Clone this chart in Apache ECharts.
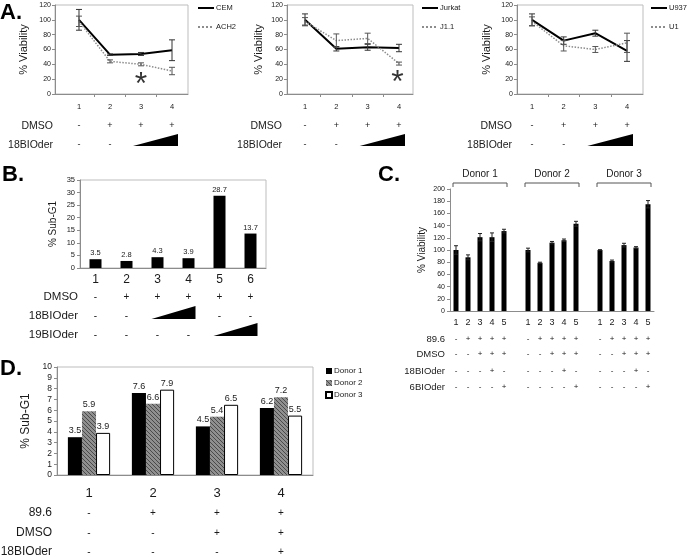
<!DOCTYPE html>
<html>
<head>
<meta charset="utf-8">
<style>html,body{margin:0;padding:0;background:#fff}#main{width:691px;height:557px}</style>
<script src="https://cdn.jsdelivr.net/npm/echarts@6.0.0/dist/echarts.min.js"></script>
</head>
<body>
<div id="main"></div>
<script>
// panel A: viability curves
const aCats = [1, 2, 3, 4]
const cemVals = [100, 53, 54, 59]
const cemErr = [14, 1, 2, 14]
const ach2Vals = [98, 44, 40, 31]
const ach2Err = [7, 2, 2, 5]
const jurkatVals = [100, 61, 63, 62]
const jurkatErr = [8, 3, 4, 5]
const j11Vals = [98, 72, 75, 41]
const j11Err = [5, 9, 7, 2]
const u937Vals = [100, 72, 82, 58]
const u937Err = [8, 5, 4, 14]
const u1Vals = [98, 65, 60, 69]
const u1Err = [6, 7, 4, 13]
const aDmso = ['-', '+', '+', '+']
const a18 = ['-', '-', '', '']

// panel B: sub-G1
const bCats = ['1', '2', '3', '4', '5', '6']
const bVals = [3.5, 2.8, 4.3, 3.9, 28.7, 13.7]
const bDmso = ['-', '+', '+', '+', '+', '+']
const b18 = ['-', '-', '', '', '-', '-']
const b19 = ['-', '-', '-', '-', '', '']

// panel C: donors viability
const cDonors = ['Donor 1', 'Donor 2', 'Donor 3']
const cLanes = ['1', '2', '3', '4', '5']
const cVals = [[100, 88, 121, 121, 131], [100, 79, 112, 116, 143], [100, 82, 108, 104, 175]]
const cErr = [[7, 4, 6, 7, 3], [3, 1, 2, 2, 4], [0.5, 1.5, 3, 1.5, 6]]
const c896 = ['-', '+', '+', '+', '+']
const cDmso = ['-', '-', '+', '+', '+']
const c18 = ['-', '-', '-', '+', '-']
const c6 = ['-', '-', '-', '-', '+']

// panel D: donors sub-G1
const dCats = ['1', '2', '3', '4']
const dNames = ['Donor 1', 'Donor 2', 'Donor 3']
const dDonor1 = [3.5, 7.6, 4.5, 6.2]
const dDonor2 = [5.9, 6.6, 5.4, 7.2]
const dDonor3 = [3.9, 7.9, 6.5, 5.5]
const d896 = ['-', '+', '+', '+']
const dDmso = ['-', '-', '+', '+']
const d18 = ['-', '-', '-', '+']

const FONT = '"Liberation Sans", Arial, sans-serif'
const TXT = '#1a1a1a'
const AXIS = '#8c8c8c'

// slots for C: 5 lanes per donor, one empty slot between donors
const cAxis = []
cDonors.forEach((d, k) => {
  cLanes.forEach(l => cAxis.push(l))
  if (k < cDonors.length - 1) cAxis.push('')
})
const cBarData = cAxis.map(() => null)
const cErrData = []
cDonors.forEach((d, k) => {
  cLanes.forEach((l, i) => {
    const s = k * 6 + i
    cBarData[s] = cVals[k][i]
    cErrData.push([s, cVals[k][i] - cErr[k][i], cVals[k][i] + cErr[k][i]])
  })
})

function hatch() {
  const c = document.createElement('canvas')
  c.width = 4; c.height = 4
  const g = c.getContext('2d')
  g.fillStyle = '#8f8f8f'
  g.fillRect(0, 0, 4, 4)
  g.strokeStyle = '#4a4a4a'
  g.lineWidth = 1
  g.beginPath()
  g.moveTo(-1, -1); g.lineTo(5, 5)
  g.moveTo(-1, 3); g.lineTo(1, 5)
  g.moveTo(3, -1); g.lineTo(5, 1)
  g.stroke()
  return c
}

function errorBars(name, idx, pts, color, cap) {
  return {
    type: 'custom', name: name, xAxisIndex: idx, yAxisIndex: idx, z: 4, silent: true,
    data: pts,
    encode: { x: 0, y: [1, 2] },
    renderItem: function (params, api) {
      const hi = api.coord([api.value(0), api.value(2)])
      const lo = api.coord([api.value(0), api.value(1)])
      const st = { stroke: color, lineWidth: 1 }
      return {
        type: 'group', children: [
          { type: 'line', shape: { x1: hi[0], y1: hi[1], x2: lo[0], y2: lo[1] }, style: st },
          { type: 'line', shape: { x1: hi[0] - cap, y1: hi[1], x2: hi[0] + cap, y2: hi[1] }, style: st },
          { type: 'line', shape: { x1: lo[0] - cap, y1: lo[1], x2: lo[0] + cap, y2: lo[1] }, style: st }
        ]
      }
    }
  }
}

const errPts = (vals, errs) => vals.map((v, i) => [aCats[i], v - errs[i], v + errs[i]])

// A panels layout
const aPanels = [
  { left: 55, width: 133, min: 0.226, max: 4.516, nameGap: 26, legend: 197,
    solid: ['CEM', cemVals, cemErr], dot: ['ACH2', ach2Vals, ach2Err], star: [3, 21] },
  { left: 287, width: 126, min: 0.425, max: 4.447, nameGap: 23, legend: 421,
    solid: ['Jurkat', jurkatVals, jurkatErr], dot: ['J1.1', j11Vals, j11Err], star: [3.95, 24] },
  { left: 517, width: 126, min: 0.526, max: 4.505, nameGap: 25, legend: 650,
    solid: ['U937', u937Vals, u937Err], dot: ['U1', u1Vals, u1Err], star: null }
]

const grid = []
const xAxis = []
const yAxis = []
const series = []
const legend = []

const yBase = (gi, max, step, fs, name, nameFs, gap) => ({
  type: 'value', gridIndex: gi, min: 0, max: max, interval: step,
  name: name, nameLocation: 'middle', nameGap: gap,
  nameTextStyle: { fontSize: nameFs, fontFamily: FONT, color: TXT },
  axisLine: { show: true, lineStyle: { color: AXIS } },
  axisTick: { show: true, length: 3, lineStyle: { color: AXIS } },
  axisLabel: { fontSize: fs, fontFamily: FONT, color: TXT, margin: 5 },
  splitLine: { show: false }
})

aPanels.forEach((p, gi) => {
  grid.push({ left: p.left, width: p.width, top: 5, height: 89, show: true, borderColor: '#bdbdbd', borderWidth: 1 })
  xAxis.push({
    type: 'value', gridIndex: gi, min: p.min, max: p.max,
    splitLine: { show: false },
    axisLine: { lineStyle: { color: AXIS } },
    axisTick: { customValues: [1.5, 2.5, 3.5], length: 3, lineStyle: { color: AXIS } },
    axisLabel: { customValues: aCats, fontSize: 7.5, fontFamily: FONT, color: TXT, margin: 13, verticalAlign: 'middle' }
  })
  const y = yBase(gi, 120, 20, 7, '% Viability', 11, p.nameGap)
  y.axisLabel.margin = 4
  yAxis.push(y)
  series.push({
    type: 'line', name: p.solid[0], xAxisIndex: gi, yAxisIndex: gi, symbol: 'none', z: 3,
    color: '#000', lineStyle: { width: 2, color: '#000' },
    data: p.solid[1].map((v, i) => [aCats[i], v])
  })
  series.push({
    type: 'line', name: p.dot[0], xAxisIndex: gi, yAxisIndex: gi, symbol: 'none', z: 3,
    color: '#8c8c8c', lineStyle: { width: 1.5, type: 'dotted', color: '#8c8c8c' },
    data: p.dot[1].map((v, i) => [aCats[i], v])
  })
  series.push(errorBars(p.solid[0] + ' err', gi, errPts(p.solid[1], p.solid[2]), '#333', 3))
  series.push(errorBars(p.dot[0] + ' err', gi, errPts(p.dot[1], p.dot[2]), '#555', 3))
  if (p.star) {
    series.push({
      type: 'scatter', xAxisIndex: gi, yAxisIndex: gi, symbolSize: 1, silent: true,
      itemStyle: { color: 'rgba(0,0,0,0)' },
      label: { show: true, position: 'inside', formatter: '*', fontSize: 32, fontFamily: FONT, color: '#000', offset: [0, 7] },
      data: [p.star]
    })
  }
  legend.push({
    left: p.legend, top: 4, padding: 0, orient: 'vertical', itemWidth: 16, itemHeight: 8, itemGap: 11,
    data: [p.solid[0], p.dot[0]],
    itemStyle: { opacity: 0 },
    textStyle: { fontSize: 7.5, fontFamily: FONT, color: TXT, padding: [0, 0, 0, -3] }
  })
})

// B
grid.push({ left: 80, width: 186, top: 180, height: 88, show: true, borderColor: '#bdbdbd', borderWidth: 1 })
xAxis.push({
  type: 'category', gridIndex: 3, data: bCats,
  axisLine: { lineStyle: { color: AXIS } },
  axisTick: { length: 3, lineStyle: { color: AXIS } },
  axisLabel: { fontSize: 12, fontFamily: FONT, color: TXT, margin: 12, verticalAlign: 'middle' }
})
yAxis.push(yBase(3, 35, 5, 7.5, '% Sub-G1', 10, 22))
series.push({
  type: 'bar', xAxisIndex: 3, yAxisIndex: 3, barWidth: 12, data: bVals,
  itemStyle: { color: '#000' },
  label: { show: true, position: 'top', distance: 2, fontSize: 7.5, fontFamily: FONT, color: TXT }
})

// C
grid.push({ left: 450, width: 204, top: 189, height: 122 })
xAxis.push({
  type: 'category', gridIndex: 4, data: cAxis,
  axisLine: { lineStyle: { color: AXIS } },
  axisTick: { length: 2, lineStyle: { color: AXIS } },
  axisLabel: { interval: 0, fontSize: 9, fontFamily: FONT, color: TXT, margin: 12, verticalAlign: 'middle' }
})
yAxis.push(yBase(4, 200, 20, 7, '% Viability', 10, 23))
series.push({
  type: 'bar', xAxisIndex: 4, yAxisIndex: 4, barWidth: 5, data: cBarData, itemStyle: { color: '#000' }
})
series.push(errorBars('C err', 4, cErrData, '#222', 2))

// D
grid.push({ left: 57, width: 256, top: 367, height: 108, show: true, borderColor: '#bdbdbd', borderWidth: 1 })
xAxis.push({
  type: 'category', gridIndex: 5, data: dCats,
  axisLine: { lineStyle: { color: AXIS } },
  axisTick: { length: 3, lineStyle: { color: AXIS } },
  axisLabel: { fontSize: 13, fontFamily: FONT, color: TXT, margin: 18, verticalAlign: 'middle' }
})
yAxis.push(yBase(5, 10, 1, 8.5, '% Sub-G1', 12, 25))
const dStyles = [
  { color: '#000' },
  { color: { image: hatch(), repeat: 'repeat' } },
  { color: '#fff', borderColor: '#000', borderWidth: 1 }
]
;[dDonor1, dDonor2, dDonor3].forEach((vals, k) => {
  series.push({
    type: 'bar', name: dNames[k], xAxisIndex: 5, yAxisIndex: 5, data: vals,
    barGap: '0%', barCategoryGap: '34%', itemStyle: dStyles[k],
    label: { show: true, position: 'top', distance: 2, fontSize: 9, fontFamily: FONT, color: TXT }
  })
})
legend.push({
  left: 325, top: 367, padding: 0, orient: 'vertical', itemWidth: 6, itemHeight: 6, itemGap: 4, icon: 'rect',
  data: dNames, textStyle: { fontSize: 8, fontFamily: FONT, color: TXT, padding: [0, 0, 0, -3] }
})

const chart = echarts.init(document.getElementById('main'))
chart.setOption({
  animation: false,
  textStyle: { fontFamily: FONT },
  grid: grid, xAxis: xAxis, yAxis: yAxis, legend: legend, series: series
})

// annotation rows, drawn at the axis positions
const px = (xi, v) => chart.convertToPixel({ xAxisIndex: xi }, v)
const txt = (x, y, s, size, align, extra) => ({
  type: 'text', x: x, y: y, silent: true,
  style: Object.assign({ text: s, fontSize: size, fontFamily: FONT, fill: TXT, align: align || 'center', verticalAlign: 'middle' }, extra || {})
})
const signRow = (xi, xs, signs, y, size) =>
  signs.map((s, i) => s ? txt(px(xi, xs[i]), y, s, size) : null).filter(Boolean)
const wedge = (xi, v1, v2, yb, h, padL, padR) => {
  const x1 = px(xi, v1) - padL
  const x2 = px(xi, v2) + padR
  return { type: 'polygon', silent: true, shape: { points: [[x1, yb], [x2, yb], [x2, yb - h]] }, style: { fill: '#000' } }
}

let g = []
// letters
g.push(txt(0, 2, 'A.', 22, 'left', { fontWeight: 'bold', verticalAlign: 'top', fill: '#000' }))
g.push(txt(2, 164, 'B.', 22, 'left', { fontWeight: 'bold', verticalAlign: 'top', fill: '#000' }))
g.push(txt(378, 164, 'C.', 22, 'left', { fontWeight: 'bold', verticalAlign: 'top', fill: '#000' }))
g.push(txt(0, 358, 'D.', 22, 'left', { fontWeight: 'bold', verticalAlign: 'top', fill: '#000' }))

// A rows
const aLabelRight = [53, 282, 512]
aPanels.forEach((p, gi) => {
  g.push(txt(aLabelRight[gi], 126, 'DMSO', 10.5, 'right'))
  g.push(txt(aLabelRight[gi], 145, '18BIOder', 10.5, 'right'))
  g = g.concat(signRow(gi, aCats, aDmso, 126, 9))
  g = g.concat(signRow(gi, aCats, a18, 145, 9))
  g.push(wedge(gi, 3, 4, 146, 12, 8, 6))
})

// B rows
const bIdx = bCats.map((c, i) => i)
;[['DMSO', bDmso, 297], ['18BIOder', b18, 316], ['19BIOder', b19, 335]].forEach(r => {
  g.push(txt(78, r[2], r[0], 11.5, 'right'))
  g = g.concat(signRow(3, bIdx, r[1], r[2], 10))
})
g.push(wedge(3, 2, 3, 319, 13, 6, 7))
g.push(wedge(3, 4, 5, 336, 13, 6, 7))

// C donor brackets and rows
cDonors.forEach((d, k) => {
  const x1 = px(4, k * 6) - 3
  const x2 = px(4, k * 6 + 4) + 3
  g.push({ type: 'polyline', silent: true, shape: { points: [[x1, 187], [x1, 183], [x2, 183], [x2, 187]] }, style: { stroke: '#555', lineWidth: 1, fill: null } })
  g.push(txt((x1 + x2) / 2, 174, d, 10))
})
;[['89.6', c896, 339], ['DMSO', cDmso, 354], ['18BIOder', c18, 371], ['6BIOder', c6, 387]].forEach(r => {
  g.push(txt(445, r[2], r[0], 9.5, 'right'))
  cDonors.forEach((d, k) => {
    g = g.concat(signRow(4, cLanes.map((l, i) => k * 6 + i), r[1], r[2], 8))
  })
})

// D rows
const dIdx = dCats.map((c, i) => i)
;[['89.6', d896, 513], ['DMSO', dDmso, 533], ['18BIOder', d18, 552]].forEach(r => {
  g.push(txt(52, r[2], r[0], 12, 'right'))
  g = g.concat(signRow(5, dIdx, r[1], r[2], 10))
})

chart.setOption({ graphic: g })
</script>
</body>
</html>
